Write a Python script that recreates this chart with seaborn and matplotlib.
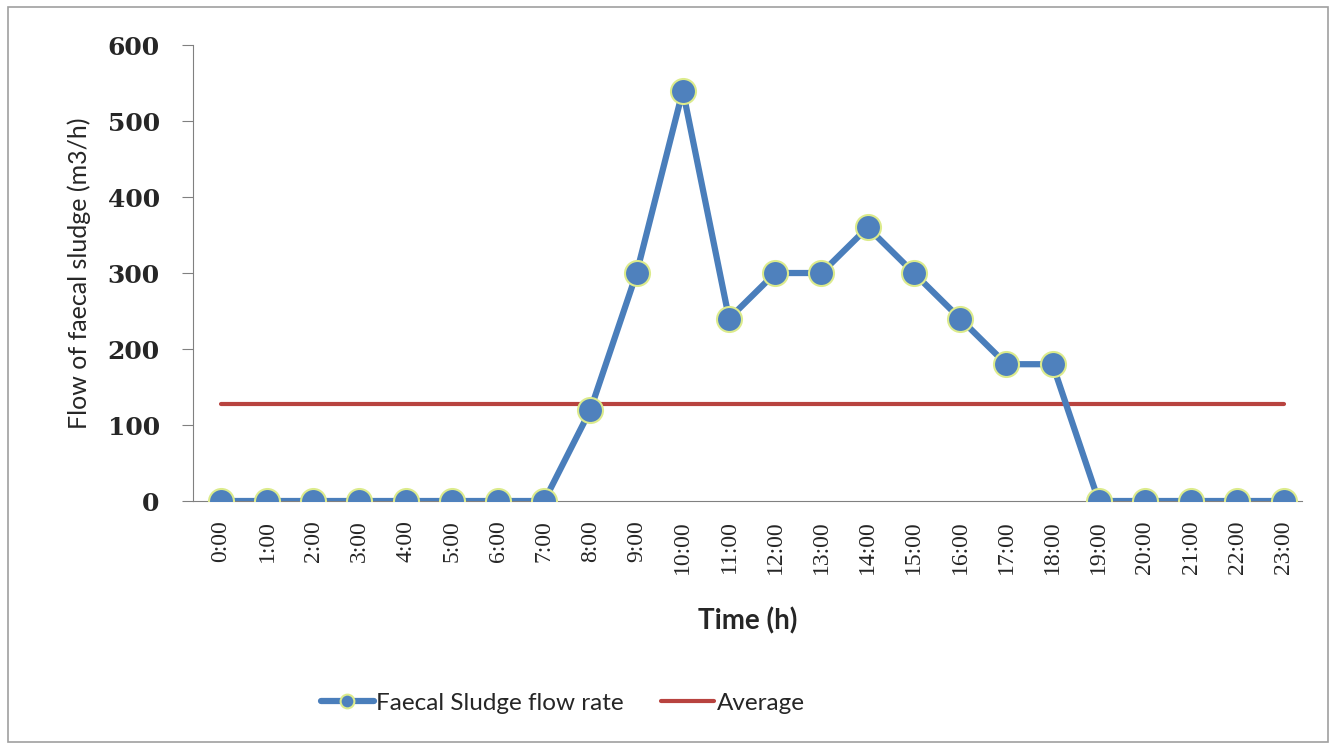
import pandas as pd
import matplotlib.pyplot as plt
import seaborn as sns
from matplotlib.patches import Rectangle

times = ['0:00', '1:00', '2:00', '3:00', '4:00', '5:00', '6:00', '7:00',
         '8:00', '9:00', '10:00', '11:00', '12:00', '13:00', '14:00', '15:00',
         '16:00', '17:00', '18:00', '19:00', '20:00', '21:00', '22:00', '23:00']
flow = [0, 0, 0, 0, 0, 0, 0, 0,
        120, 300, 540, 240, 300, 300, 360, 300,
        240, 180, 180, 0, 0, 0, 0, 0]
average = [127.5] * 24

df = pd.DataFrame({'Time': times, 'Flow': flow, 'Average': average})
df['pos'] = range(len(df))

sns.set_style('white')

fig = plt.figure(figsize=(13.33, 7.48), dpi=100)
ax = fig.add_axes([0.1448, 0.3302, 0.832, 0.6096])

sns.lineplot(data=df, x='pos', y='Flow', ax=ax, color='#4A7EBB', linewidth=4.5,
             marker='o', markersize=18, markerfacecolor='#4F81BD',
             markeredgecolor='#DCEB8C', markeredgewidth=1.5,
             label='Faecal Sludge flow rate', zorder=3)
sns.lineplot(data=df, x='pos', y='Average', ax=ax, color='#B8433F', linewidth=3,
             label='Average', zorder=2)

ax.set_xlim(-0.6, 23.4)
ax.set_ylim(0, 600)
ax.set_yticks([0, 100, 200, 300, 400, 500, 600])
ax.set_yticklabels(['0', '100', '200', '300', '400', '500', '600'],
                   fontfamily='DejaVu Serif', fontweight='bold', fontsize=18)
ax.set_xticks(df['pos'])
ax.set_xticklabels(times, rotation=90, fontfamily='Liberation Serif', fontsize=17)
ax.tick_params(axis='y', direction='out', length=8, color='#808080', pad=16, left=True)
ax.tick_params(axis='x', length=0, pad=14)

for s in ['top', 'right']:
    ax.spines[s].set_visible(False)
ax.spines['left'].set_color('#808080')
ax.spines['bottom'].set_color('#808080')

ax.set_xlabel('Time (h)', fontfamily='Lato', fontweight='bold', fontsize=20, labelpad=24)
ax.set_ylabel('Flow of faecal sludge (m3/h)', fontfamily='Lato', fontsize=18, labelpad=12)

ax.legend(loc='center', bbox_to_anchor=(0.422, 0.06), bbox_transform=fig.transFigure,
          ncol=2, frameon=False, prop={'family': 'Lato', 'size': 17.5},
          handlelength=2.2, handletextpad=0.1, columnspacing=1.5, markerscale=0.55)

fig.patches.append(Rectangle((0.006, 0.008), 0.99, 0.982, transform=fig.transFigure,
                             fill=False, edgecolor='#A0A0A0', linewidth=1.2))

fig.savefig('out.png', dpi=100)
